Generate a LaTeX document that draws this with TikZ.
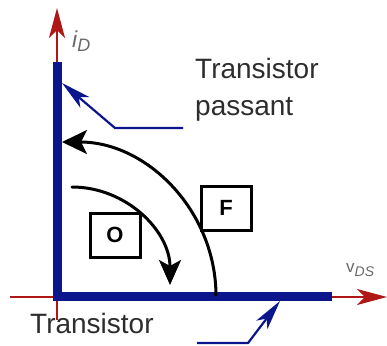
\documentclass[tikz,border=0pt]{standalone}
\usepackage{fontspec}
\setmainfont{Liberation Sans}
\usetikzlibrary{arrows.meta}
\definecolor{axblue}{RGB}{12,22,140}
\definecolor{axred}{RGB}{175,22,22}
\definecolor{txtgrey}{RGB}{45,45,45}
\definecolor{lblgrey}{RGB}{105,105,105}
\tikzset{
  redaxis/.style={draw=axred, line width=2pt, -{Stealth[length=30pt,width=16pt,inset=8pt]}},
  redplain/.style={draw=axred, line width=2pt},
  bluechar/.style={draw=axblue, line width=9pt, line join=miter, line cap=butt},
  pointer/.style={draw=axblue, line width=2.2pt, -{Stealth[length=30pt,width=14pt,inset=8pt]}},
  arcline/.style={draw=black, line width=3pt, -{Stealth[length=25pt,width=22pt,inset=6pt]}},
  regionbox/.style={draw=black, line width=3pt, minimum width=50pt, minimum height=44pt, inner sep=0pt, font=\fontsize{22}{22}\selectfont\bfseries},
  bigtext/.style={text=txtgrey, inner sep=0pt, font=\fontsize{28}{37}\selectfont},
}
\begin{document}
\begin{tikzpicture}[x=1pt,y=-1pt]
\useasboundingbox (0,0) rectangle (387,345);
% axes coordinates
\coordinate (o) at (57,297);
\coordinate (ytop) at (57,8);
\coordinate (ybot) at (57,320);
\coordinate (xleft) at (10,297);
\coordinate (xright) at (387,297);
% red axes
\draw[redaxis] (ybot) -- (ytop);
\draw[redaxis] (xleft) -- (xright);
% blue characteristic
\coordinate (ctop) at (57,62);
\coordinate (corner) at (57,296);
\coordinate (cright) at (332,296);
\draw[bluechar] (ctop) -- (corner) -- (cright);
% axis labels
\node[anchor=base west, inner sep=0pt, text=lblgrey] (iD) at (72,47)
  {\fontsize{23}{23}\selectfont\itshape i\raisebox{-5pt}{\fontsize{18}{18}\selectfont D}};
\node[anchor=base west, inner sep=0pt, text=lblgrey] (vDS) at (346,272)
  {\fontsize{17}{17}\selectfont v\raisebox{-4pt}{\fontsize{14}{14}\selectfont\itshape DS}};
% texts
\node[bigtext, anchor=base west, align=left] (passant) at (195,115) {Transistor\\passant};
\node[bigtext, anchor=base west] (bloque) at (30,333) {Transistor};
% pointers
\coordinate (p1a) at (183,128);
\coordinate (p1b) at (115,128);
\coordinate (p1c) at (62,83);
\draw[pointer] (p1a) -- (p1b) -- (p1c);
\coordinate (p2a) at (197,343);
\coordinate (p2b) at (248,343);
\coordinate (p2c) at (280,301);
\draw[pointer] (p2a) -- (p2b) -- (p2c);
% arcs
\coordinate (bigstart) at (216,296);
\draw[arcline, -{Stealth[length=25pt,width=24pt,inset=6pt]}] (bigstart) arc[start angle=0, end angle=-90, radius=154];
\coordinate (smallstart) at (72,187);
\draw[arcline, line cap=round] (smallstart) arc[start angle=-90, end angle=0, radius=98];
% boxes
\node[regionbox, fill=white] (boxF) at (226,208) {F};
\node[regionbox] (boxO) at (115,235) {O};
\end{tikzpicture}
\end{document}
